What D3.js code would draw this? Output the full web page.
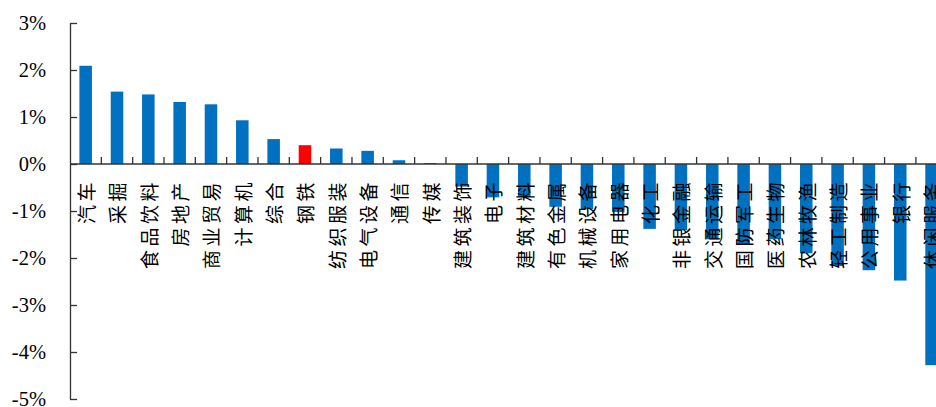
<!DOCTYPE html>
<html>
<head>
<meta charset="utf-8">
<script src="https://cdn.jsdelivr.net/npm/d3@7"></script>
<style>
  html, body { margin: 0; padding: 0; background: #fff; }
  svg { display: block; }
</style>
</head>
<body>
<svg id="chart" width="936" height="407"></svg>
<script>
const categories = ["汽车","采掘","食品饮料","房地产","商业贸易","计算机","综合","钢铁","纺织服装","电气设备","通信","传媒","建筑装饰","电子","建筑材料","有色金属","机械设备","家用电器","化工","非银金融","交通运输","国防军工","医药生物","农林牧渔","轻工制造","公用事业","银行","休闲服务"];
const values = [2.09,1.54,1.48,1.32,1.27,0.93,0.53,0.40,0.33,0.28,0.08,0.02,-0.48,-0.71,-0.70,-0.91,-0.96,-1.02,-1.38,-1.41,-1.60,-1.70,-1.60,-1.90,-2.17,-2.26,-2.48,-4.28];
const highlight = "钢铁";
const yTicks = [-5,-4,-3,-2,-1,0,1,2,3];

const svg = d3.select("#chart");
const x0 = 70, stepPx = 31.33;
const x = d3.scaleBand().domain(categories)
  .range([x0, x0 + stepPx * categories.length])
  .paddingInner(0.6).paddingOuter(0.3);
const y = d3.scaleLinear().domain([-5, 3]).range([399, 23]);

// bars
svg.append("g").selectAll("rect").data(categories).join("rect")
  .attr("x", d => x(d))
  .attr("width", x.bandwidth())
  .attr("y", (d, i) => y(Math.max(0, values[i])))
  .attr("height", (d, i) => Math.abs(y(values[i]) - y(0)))
  .attr("fill", d => d === highlight ? "#FF0000" : "#0070C0");

// y axis
const serif = "'Liberation Serif', 'Times New Roman', serif";
const yAxis = d3.axisLeft(y).tickValues(yTicks)
  .tickFormat(d => d + "%").tickSizeInner(-7).tickSizeOuter(0).tickPadding(24);
const gy = svg.append("g").attr("transform", `translate(${x0},0)`).call(yAxis);
gy.attr("font-family", serif).attr("font-size", 20);
gy.selectAll("path, line").attr("stroke", "#333").attr("stroke-width", 1.3);
gy.selectAll("text")
  .style("font-family", serif)
  .style("font-size", "20.5px")
  .attr("fill", "#000").attr("dy", "0.34em");

// x axis line and boundary ticks
const step = x.step();
const start = x.range()[0];
const gx = svg.append("g");
gx.append("line").attr("x1", start).attr("x2", x.range()[1])
  .attr("y1", y(0)).attr("y2", y(0)).attr("stroke", "#333").attr("stroke-width", 1.3);
gx.selectAll("line.tick").data(d3.range(1, categories.length + 1)).join("line")
  .attr("class", "tick")
  .attr("x1", i => start + i * step).attr("x2", i => start + i * step)
  .attr("y1", y(0)).attr("y2", y(0) - 7)
  .attr("stroke", "#333").attr("stroke-width", 1.3);

// category labels (rotated, reading bottom to top)
svg.append("g").selectAll("text").data(categories).join("text")
  .attr("transform", d => `translate(${x(d) + x.bandwidth() / 2},${y(0) + 15}) rotate(-90)`)
  .attr("text-anchor", "end")
  .attr("dominant-baseline", "central")
  .style("font-family", "'Noto Sans CJK SC', sans-serif")
  .style("font-size", "19px")
  .style("letter-spacing", "3.5px")
  .attr("fill", "#000")
  .text(d => d);
</script>
</body>
</html>
